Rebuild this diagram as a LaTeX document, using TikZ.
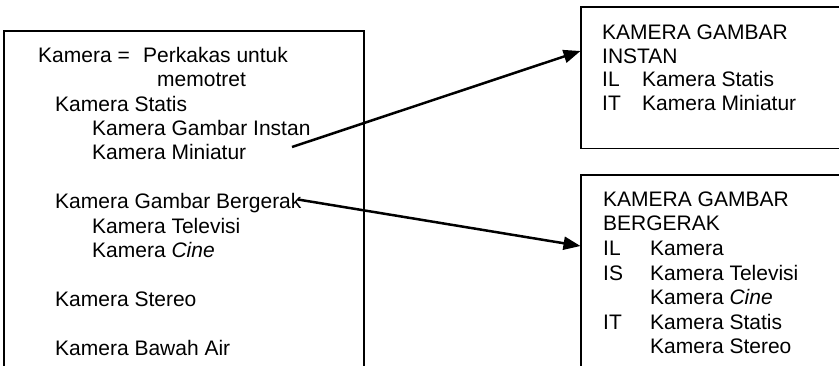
\documentclass[tikz,border=0pt]{standalone}
\usepackage{fontspec}
\setmainfont{Liberation Sans}
\usetikzlibrary{arrows.meta}
\begin{document}
\begin{tikzpicture}[x=1pt,y=-1pt,
  txt/.style={anchor=base west, inner sep=0pt, font=\fontsize{21}{24.4}\selectfont},
  frame/.style={draw, line width=1.6pt, anchor=north west, outer sep=0pt, inner sep=0pt},
  link/.style={line width=2.5pt, -{Triangle[length=17pt,width=13pt]}}]
\useasboundingbox (0,0) rectangle (839,365);
\clip (0,0) rectangle (839,365);

% frames (they run past the page edge, so only three sides show)
\node[frame, minimum width=360pt, minimum height=420pt] (defs) at (4,31) {};
\node[frame, minimum width=300pt, minimum height=141.5pt] (instan) at (581,7) {};
\node[frame, minimum width=300pt, minimum height=300pt] (bergerak) at (581,175) {};

% definition list
\node[txt] (kam)  at (38,62.4)   {Kamera =};
\node[txt] (perk) at (143,62.4)  {Perkakas untuk};
\node[txt] (memo) at (157,86.6)  {memotret};
\node[txt] (stat) at (55,111)    {Kamera Statis};
\node[txt] (gins) at (92,135.3)  {Kamera Gambar Instan};
\node[txt] (mini) at (92,159.6)  {Kamera Miniatur};
\node[txt] (gber) at (55,208.5)  {Kamera Gambar Bergerak};
\node[txt] (tele) at (92,233)    {Kamera Televisi};
\node[txt] (cine) at (92,257.3)  {Kamera \textit{Cine}};
\node[txt] (ster) at (55,306.2)  {Kamera Stereo};
\node[txt] (bawa) at (55,355)    {Kamera Bawah Air};

% entry: kamera gambar instan
\node[txt] (ia1) at (602,39.5) {KAMERA GAMBAR};
\node[txt] (ia2) at (602,63)   {INSTAN};
\node[txt] (ia3) at (602,86.5) {IL};
\node[txt] (ia4) at (642,86.5) {Kamera Statis};
\node[txt] (ia5) at (602,110)  {IT};
\node[txt] (ia6) at (642,110)  {Kamera Miniatur};

% entry: kamera gambar bergerak
\node[txt] (ba1)  at (603,206)   {KAMERA GAMBAR};
\node[txt] (ba2)  at (603,230.5) {BERGERAK};
\node[txt] (ba3)  at (603,255)   {IL};
\node[txt] (ba4)  at (650,255)   {Kamera};
\node[txt] (ba5)  at (603,280)   {IS};
\node[txt] (ba6)  at (650,280)   {Kamera Televisi};
\node[txt] (ba7)  at (650,304.5) {Kamera \textit{Cine}};
\node[txt] (ba8)  at (603,329)   {IT};
\node[txt] (ba9)  at (650,329)   {Kamera Statis};
\node[txt] (ba10) at (650,353.5) {Kamera Stereo};

% links from the list to the entries
\coordinate (fromA) at (292,147);
\coordinate (fromB) at (298,199.5);
\coordinate (toA) at (580.5,51);
\coordinate (toB) at (580.5,246);
\draw[link] (fromA) -- (toA);
\draw[link] (fromB) -- (toB);
\end{tikzpicture}
\end{document}
